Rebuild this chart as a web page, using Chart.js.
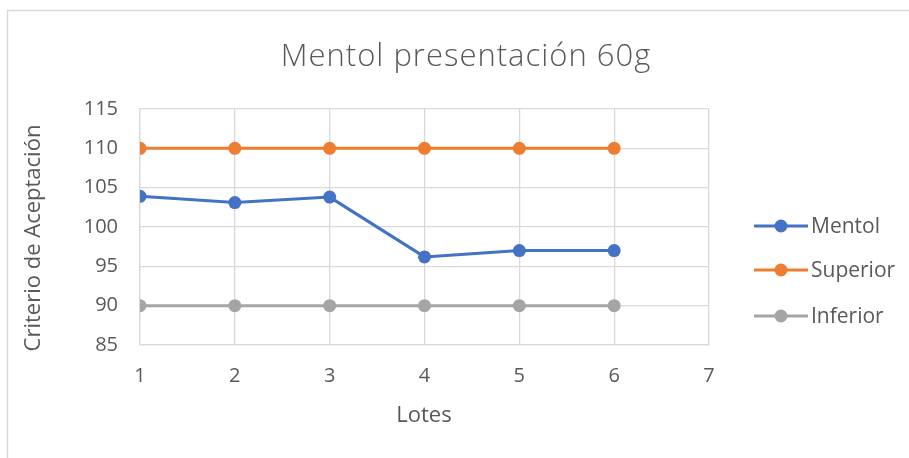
<!DOCTYPE html>
<html>
<head>
<meta charset="utf-8">
<script src="https://cdn.jsdelivr.net/npm/chart.js@4/dist/chart.umd.min.js"></script>
<style>
  html, body { margin: 0; padding: 0; background: #fff; }
  #wrap { position: relative; width: 909px; height: 458px; }
</style>
</head>
<body>
<div id="wrap"><canvas id="c"></canvas></div>
<script>
// Lotes (x) and acceptance values per series
const lotes = [1, 2, 3, 4, 5, 6];
const mentol = [103.9, 103.1, 103.8, 96.2, 97.0, 97.0];
const superior = [110, 110, 110, 110, 110, 110];
const inferior = [90, 90, 90, 90, 90, 90];
const seriesNames = ['Mentol', 'Superior', 'Inferior'];
const seriesColors = ['#4472C4', '#ED7D31', '#A5A5A5'];
const chartTitle = 'Mentol presentación 60g';
const xTitle = 'Lotes';
const yTitle = 'Criterio de Aceptación';

const FONT = 'Open Sans, Noto Sans, sans-serif';
const TEXT = '#595959';
const GRID = '#d9d9d9';

const toPoints = vals => lotes.map((x, i) => ({ x: x, y: vals[i] }));

function makeSet(name, vals, color) {
  return {
    label: name,
    data: toPoints(vals),
    borderColor: color,
    backgroundColor: color,
    borderWidth: 3,
    pointRadius: 6.5,
    pointHoverRadius: 6.5,
    pointBorderWidth: 0,
    pointBackgroundColor: color,
    tension: 0
  };
}

// Frame, titles and line-with-marker legend
const decor = {
  id: 'decor',
  beforeDraw(chart) {
    const ctx = chart.ctx;
    ctx.save();
    ctx.fillStyle = '#fff';
    ctx.fillRect(0, 0, chart.width, chart.height);
    ctx.strokeStyle = GRID;
    ctx.lineWidth = 1.5;
    ctx.strokeRect(7.5, 10.5, chart.width, chart.height);
    ctx.restore();
  },
  afterDraw(chart) {
    const ctx = chart.ctx;
    ctx.save();
    ctx.fillStyle = TEXT;
    ctx.textBaseline = 'middle';

    // chart title
    ctx.font = '300 31px ' + FONT;
    ctx.textAlign = 'center';
    if ('letterSpacing' in ctx) ctx.letterSpacing = '1px';
    ctx.fillText(chartTitle, 466, 57);
    if ('letterSpacing' in ctx) ctx.letterSpacing = '0px';

    // vertical axis title
    ctx.font = '22px ' + FONT;
    ctx.save();
    ctx.translate(34, 238);
    ctx.rotate(-Math.PI / 2);
    ctx.fillText(yTitle, 0, 0);
    ctx.restore();

    // horizontal axis title
    ctx.fillText(xTitle, 424, 416);

    // legend
    const rows = [226, 270, 316];
    chart.data.datasets.forEach((ds, i) => {
      const y = rows[i];
      ctx.strokeStyle = ds.borderColor;
      ctx.lineWidth = 3;
      ctx.beginPath();
      ctx.moveTo(754, y);
      ctx.lineTo(808, y);
      ctx.stroke();
      ctx.fillStyle = ds.borderColor;
      ctx.beginPath();
      ctx.arc(781, y, 6.5, 0, Math.PI * 2);
      ctx.fill();
      ctx.fillStyle = TEXT;
      ctx.font = '21px ' + FONT;
      ctx.textAlign = 'left';
      ctx.fillText(ds.label, 811, y + 1);
    });
    ctx.restore();
  }
};

new Chart(document.getElementById('c'), {
  type: 'line',
  data: {
    datasets: [
      makeSet(seriesNames[0], mentol, seriesColors[0]),
      makeSet(seriesNames[1], superior, seriesColors[1]),
      makeSet(seriesNames[2], inferior, seriesColors[2])
    ]
  },
  options: {
    responsive: true,
    maintainAspectRatio: false,
    animation: false,
    layout: { padding: { top: 109, right: 200, left: 0, bottom: 0 } },
    plugins: {
      legend: { display: false },
      title: { display: false },
      tooltip: { enabled: false }
    },
    scales: {
      x: {
        type: 'linear',
        min: 1,
        max: 7,
        ticks: { stepSize: 1, padding: 19, color: TEXT, font: { family: FONT, size: 20 } },
        grid: { color: GRID, lineWidth: 1.3, drawTicks: false },
        border: { color: GRID, width: 1.3 },
        afterFit(s) { s.height = 113; }
      },
      y: {
        min: 85,
        max: 115,
        ticks: { stepSize: 5, padding: 22, color: TEXT, font: { family: FONT, size: 20 } },
        grid: { color: GRID, lineWidth: 1.3, drawTicks: false },
        border: { color: GRID, width: 1.3 },
        afterFit(s) { s.width = 140; }
      }
    }
  },
  plugins: [decor]
});
</script>
</body>
</html>
